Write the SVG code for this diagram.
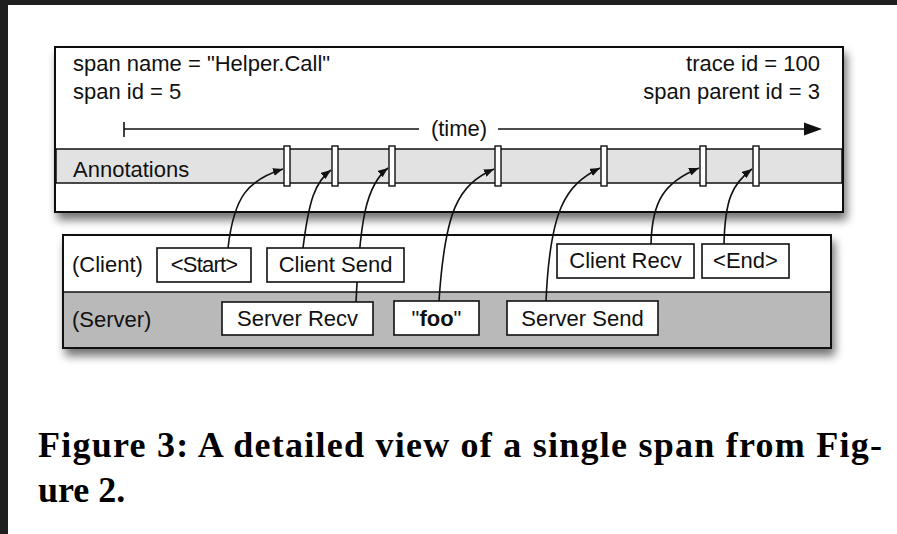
<svg xmlns="http://www.w3.org/2000/svg" width="897" height="534" viewBox="0 0 897 534">
<defs>
<style>
text{font-family:"Liberation Sans",Arial,sans-serif;font-size:22px;fill:#111}
.box{fill:#fff;stroke:#111;stroke-width:1.6}
.ann{fill:#fff;stroke:#111;stroke-width:1.4}
.c{fill:none;stroke:#111;stroke-width:1.6}
.cap{font-family:"Liberation Serif","Times New Roman",serif;font-weight:bold;font-size:36px;fill:#000}
</style>
<filter id="sh" x="-5%" y="-10%" width="112%" height="140%">
<feGaussianBlur in="SourceAlpha" stdDeviation="5"/>
<feOffset dx="3" dy="7" result="b"/>
<feComponentTransfer><feFuncA type="linear" slope="0.55"/></feComponentTransfer>
<feMerge><feMergeNode/><feMergeNode in="SourceGraphic"/></feMerge>
</filter>
<marker id="ah" markerUnits="userSpaceOnUse" markerWidth="11" markerHeight="8" refX="10" refY="4" orient="auto">
<path d="M0,0 L10,4 L0,8 z" fill="#111"/>
</marker>
</defs>
<rect x="0" y="0" width="897" height="534" fill="#fff"/>
<rect x="0" y="0" width="897" height="5" fill="#1f1f1f"/>
<rect x="0" y="0" width="8" height="534" fill="#1f1f1f"/>

<g id="span-box">
<rect x="55" y="47" width="788" height="165" fill="#fff" stroke="#111" stroke-width="2" filter="url(#sh)"/>
<rect x="56" y="149" width="786" height="34" fill="#e2e2e2" stroke="#111" stroke-width="1.5"/>
<text x="73" y="71">span name = "Helper.Call"</text>
<text x="73" y="99">span id = 5</text>
<text x="820" y="71" text-anchor="end">trace id = 100</text>
<text x="820" y="99" text-anchor="end">span parent id = 3</text>
<text x="73" y="177">Annotations</text>
</g>

<g id="time-axis">
<line x1="124" y1="129" x2="419" y2="129" stroke="#111" stroke-width="1.6"/>
<line x1="124" y1="122" x2="124" y2="137" stroke="#111" stroke-width="1.6"/>
<line x1="498" y1="129" x2="806" y2="129" stroke="#111" stroke-width="1.6"/>
<polygon points="804,122.5 822,129 804,135.5" fill="#111"/>
<text x="459" y="136" text-anchor="middle">(time)</text>
</g>

<g id="annotation-marks">
<rect class="ann" x="284" y="146" width="6" height="40"/>
<rect class="ann" x="332" y="146" width="6" height="40"/>
<rect class="ann" x="389" y="146" width="6" height="40"/>
<rect class="ann" x="495" y="146" width="6" height="40"/>
<rect class="ann" x="601" y="146" width="6" height="40"/>
<rect class="ann" x="700" y="146" width="6" height="40"/>
<rect class="ann" x="753" y="146" width="6" height="40"/>
</g>

<g id="rpc-box">
<rect x="63" y="235" width="768" height="113" fill="#fff" stroke="#111" stroke-width="2" filter="url(#sh)"/>
<rect x="64" y="292" width="766" height="55" fill="#b9b9b9"/>
<line x1="63" y1="292" x2="831" y2="292" stroke="#111" stroke-width="1.5"/>
<rect x="63" y="235" width="768" height="113" fill="none" stroke="#111" stroke-width="2"/>
<text x="72" y="272">(Client)</text>
<text x="72" y="327">(Server)</text>
</g>

<g id="connectors">
<path class="c" d="M228,248 C234,196 248,180 283,169" marker-end="url(#ah)"/>
<path class="c" d="M303,248 C309,200 315,182 331,170" marker-end="url(#ah)"/>
<path class="c" d="M356,302 C360,220 366,185 388,168" marker-end="url(#ah)"/>
<path class="c" d="M439,301 C445,210 458,185 494,169" marker-end="url(#ah)"/>
<path class="c" d="M546,301 C550,210 565,185 600,168" marker-end="url(#ah)"/>
<path class="c" d="M651,244 C652,200 665,182 699,168" marker-end="url(#ah)"/>
<path class="c" d="M724,244 C725,200 732,184 752,169" marker-end="url(#ah)"/>
</g>

<g id="start"><rect class="box" x="157" y="248" width="94" height="34"/><text x="204" y="272" text-anchor="middle" letter-spacing="-0.8">&lt;Start&gt;</text></g>
<g id="client-send"><rect class="box" x="267" y="248" width="137" height="34"/><text x="335.5" y="272" text-anchor="middle">Client Send</text></g>
<g id="client-recv"><rect class="box" x="557" y="244" width="137" height="34"/><text x="625.5" y="268" text-anchor="middle">Client Recv</text></g>
<g id="end"><rect class="box" x="702" y="244" width="87" height="34"/><text x="745.5" y="268" text-anchor="middle">&lt;End&gt;</text></g>
<g id="server-recv"><rect class="box" x="222" y="302" width="151" height="33"/><text x="297.5" y="326" text-anchor="middle">Server Recv</text></g>
<g id="foo"><rect class="box" x="394" y="301" width="85" height="34"/><text x="436.5" y="326" text-anchor="middle">"<tspan font-weight="bold">foo</tspan>"</text></g>
<g id="server-send"><rect class="box" x="507" y="301" width="151" height="34"/><text x="582.5" y="326" text-anchor="middle">Server Send</text></g>

<g id="caption">
<text class="cap" x="38" y="457" textLength="844" lengthAdjust="spacing">Figure 3:  A detailed view of a single span from Fig-</text>
<text class="cap" x="38" y="502">ure 2.</text>
</g>
</svg>
